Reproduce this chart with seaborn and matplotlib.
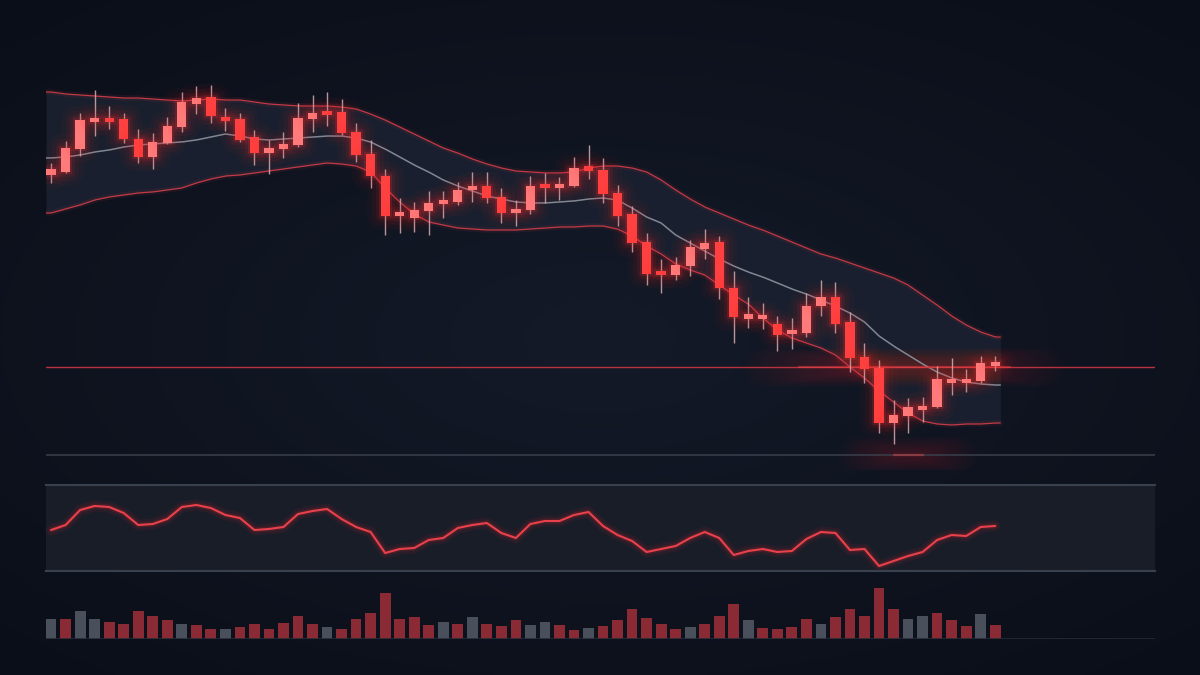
import numpy as np
import pandas as pd
import matplotlib
matplotlib.use("Agg")
import matplotlib.pyplot as plt
import matplotlib.patheffects as pe
import seaborn as sns

# ---------------- data ----------------
opens = [132.5, 132.8, 135.1, 137.8, 138.2, 138.1, 136.1, 134.3, 135.7, 137.3,
         139.6, 140.3, 138.3, 138.1, 136.3, 134.7, 135.1, 135.5, 138.1, 138.9,
         138.8, 136.8, 134.6, 132.4, 128.4, 128.2, 128.9, 129.6, 129.8, 131.0,
         131.4, 130.3, 128.7, 129.0, 131.5, 131.2, 131.4, 133.4, 133.0, 130.7,
         128.6, 125.8, 122.8, 122.5, 123.4, 125.1, 125.8, 121.2, 118.1, 118.1,
         117.6, 116.6, 116.7, 119.4, 120.3, 117.8, 114.3, 113.2, 107.7, 108.4,
         109.0, 109.3, 111.7, 111.7, 111.9, 113.4]
closes = [133.1, 135.2, 138.0, 138.1, 137.8, 136.1, 134.3, 135.8, 137.4, 139.8,
          140.2, 138.4, 137.9, 136.0, 134.7, 135.2, 135.6, 138.2, 138.7, 138.5,
          136.7, 134.5, 132.4, 128.4, 128.7, 129.0, 129.7, 130.0, 131.0, 131.4,
          130.2, 128.7, 129.1, 131.4, 131.2, 131.5, 133.2, 132.9, 130.6, 128.4,
          125.7, 122.6, 122.5, 123.5, 125.3, 125.7, 121.2, 118.3, 118.6, 118.5,
          116.5, 116.9, 119.4, 120.3, 117.6, 114.2, 113.1, 107.7, 108.5, 109.3,
          109.4, 112.1, 112.1, 112.1, 113.7, 113.8]
highs = [133.7, 135.9, 138.7, 141.0, 139.4, 138.7, 137.1, 136.7, 138.3, 140.8,
         141.4, 141.5, 139.2, 138.7, 137.0, 136.0, 136.8, 139.7, 140.5, 140.8,
         140.1, 137.7, 136.0, 133.1, 130.2, 129.8, 130.9, 130.9, 131.8, 132.8,
         132.8, 131.2, 130.0, 132.4, 132.7, 132.3, 134.3, 135.5, 134.2, 131.5,
         129.4, 126.7, 124.1, 124.3, 126.0, 127.1, 126.4, 122.9, 120.3, 119.7,
         118.4, 118.2, 120.7, 122.0, 121.8, 118.8, 115.7, 114.0, 110.0, 110.2,
         110.3, 113.4, 114.2, 113.1, 114.4, 114.4]
lows = [131.7, 132.7, 134.4, 136.4, 137.1, 135.7, 133.7, 133.1, 135.6, 136.8,
        138.6, 137.7, 136.9, 135.8, 133.5, 132.6, 134.2, 135.3, 136.8, 137.4,
        136.5, 133.8, 131.2, 126.5, 126.7, 126.8, 126.5, 128.2, 129.5, 129.8,
        129.7, 127.7, 127.4, 128.6, 129.7, 130.0, 131.3, 132.1, 129.7, 127.4,
        124.8, 121.5, 120.7, 122.0, 122.4, 124.1, 120.1, 115.7, 117.2, 117.1,
        114.9, 115.1, 116.3, 118.4, 116.7, 112.8, 111.7, 106.7, 105.6, 106.7,
        107.8, 109.2, 110.5, 110.8, 111.7, 112.9]

band_upper = [140.8, 140.6, 140.5, 140.4, 140.3, 140.2, 140.2, 140.1, 140.0, 139.9,
              140.0, 140.1, 140.0, 140.0, 139.8, 139.6, 139.5, 139.4, 139.4, 139.4,
              139.3, 139.1, 138.6, 138.0, 137.3, 136.6, 135.9, 135.2, 134.7, 134.1,
              133.6, 133.2, 132.9, 132.8, 132.7, 132.7, 132.8, 133.2, 133.4, 133.4,
              133.2, 132.8, 132.0, 131.0, 130.1, 129.3, 128.7, 128.1, 127.5, 127.0,
              126.4, 125.8, 125.2, 124.6, 124.2, 123.7, 123.2, 122.7, 122.2, 121.5,
              120.5, 119.5, 118.4, 117.5, 116.8, 116.3]
band_mid = [134.2, 134.3, 134.5, 134.8, 135.0, 135.3, 135.5, 135.6, 135.7, 135.8,
            136.0, 136.3, 136.6, 136.4, 136.1, 136.0, 136.1, 136.2, 136.3, 136.4,
            136.4, 136.2, 135.8, 135.1, 134.3, 133.5, 132.8, 132.0, 131.4, 130.9,
            130.4, 130.1, 129.8, 129.7, 129.7, 129.8, 129.9, 130.1, 130.2, 130.0,
            129.2, 128.3, 127.7, 126.5, 125.7, 124.9, 124.1, 123.4, 122.8, 122.3,
            121.7, 121.1, 120.6, 120.0, 119.4, 118.7, 117.8, 116.4, 115.4, 114.5,
            113.6, 112.8, 112.2, 111.8, 111.6, 111.5]
band_lower = [128.7, 129.1, 129.5, 130.0, 130.3, 130.5, 130.7, 130.8, 131.0, 131.2,
              131.7, 132.1, 132.4, 132.5, 132.7, 132.9, 133.1, 133.3, 133.5, 133.7,
              133.6, 133.4, 132.8, 131.2, 129.8, 128.6, 127.8, 127.5, 127.2, 127.1,
              127.0, 127.0, 127.0, 127.1, 127.2, 127.3, 127.3, 127.4, 127.4, 127.1,
              126.4, 125.4, 124.6, 123.6, 123.0, 122.5, 121.5, 120.5, 119.6, 118.2,
              117.0, 116.2, 115.7, 115.2, 114.5, 113.3, 112.2, 110.9, 109.8, 108.7,
              107.9, 107.6, 107.5, 107.6, 107.6, 107.7]

oscillator = [41, 46, 61, 65, 64, 58, 46, 47, 52, 64,
              66, 63, 56, 53, 41, 42, 44, 57, 60, 62,
              52, 44, 39, 18, 22, 23, 31, 33, 43, 46,
              48, 38, 33, 47, 50, 50, 56, 59, 45, 36,
              30, 19, 22, 25, 33, 39, 33, 16, 20, 22,
              19, 20, 32, 39, 38, 21, 22, 5, 10, 15,
              19, 31, 36, 35, 44, 45]

volume = [61, 61, 85, 61, 50, 46, 84, 70, 58, 46,
          42, 29, 30, 37, 45, 31, 48, 68, 46, 35,
          31, 61, 79, 139, 61, 66, 42, 51, 46, 67,
          45, 40, 56, 43, 51, 43, 28, 33, 38, 57,
          90, 63, 46, 30, 35, 44, 68, 105, 57, 33,
          31, 35, 59, 44, 67, 90, 68, 153, 89, 61,
          70, 78, 56, 40, 74, 43]
volume_side = list("grggrrrrrg" "rrgrrrrrrg" "rrrrrrrgrg" "rrrggrrgrr"
                   "rrrrgrrrgr" "rrrgrrrrrg" "grrrgr")

support_level = 113.3
floor_level = 104.5

# ---------------- style ----------------
BG = "#0f1420"
UP = "#ff7a7a"
DOWN = "#ff4040"
WICK = "#d6aeb3"
BAND_EDGE = "#c23a46"
MID = "#8c939e"
LINE_RED = "#b8323f"

sns.set_theme(style="dark", rc={"figure.facecolor": BG, "axes.facecolor": BG,
                                "savefig.facecolor": BG})
plt.rcParams["font.family"] = ["DejaVu Sans"]

fig = plt.figure(figsize=(12, 6.75), dpi=100)

# background vignette
bgax = fig.add_axes([0, 0, 1, 1], zorder=-10)
yy, xx = np.mgrid[-1:1:300j, -1:1:500j]
r = np.sqrt((xx * 0.9) ** 2 + (yy * 1.0) ** 2)
c_in = np.array([0x14, 0x1a, 0x28]) / 255
c_out = np.array([0x0a, 0x0e, 0x18]) / 255
t = np.clip(r / 1.35, 0, 1)[..., None]
bgax.imshow(c_in * (1 - t) + c_out * t, aspect="auto", extent=[0, 1, 0, 1])
bgax.set_axis_off()

L, W = 46 / 1200, (1155 - 46) / 1200
XMIN, XMAX = -0.35, 76.0
n = len(opens)
idx = np.arange(n)

# ---------------- main price panel ----------------
ax = fig.add_axes([L, 1 - 470 / 675, W, 400 / 675])
ax.set_facecolor("none")
ax.set_xlim(XMIN, XMAX)
ax.set_ylim(103.0, 143.0)

xf = np.linspace(XMIN, n - 1 + 0.35, 600)
up_f = np.interp(xf, idx, band_upper)
mid_f = np.interp(xf, idx, band_mid)
lo_f = np.interp(xf, idx, band_lower)
ax.fill_between(xf, lo_f, up_f, color="#1b2130", alpha=0.9, lw=0, zorder=1)

sns.lineplot(x=xf, y=up_f, ax=ax, color=BAND_EDGE, lw=0.9, zorder=2)
sns.lineplot(x=xf, y=lo_f, ax=ax, color=BAND_EDGE, lw=0.9, zorder=2)
sns.lineplot(x=xf, y=mid_f, ax=ax, color=MID, lw=1.1, zorder=2, alpha=0.9)
for ln in ax.lines[:2]:
    ln.set_path_effects([pe.Stroke(linewidth=4, foreground=BAND_EDGE, alpha=0.10),
                         pe.Normal()])

# horizontal reference lines
ax.axhline(support_level, color=LINE_RED, lw=1.0, zorder=2)
ax.axhline(floor_level, color="#3a404c", lw=1.1, zorder=2)

# soft glows around the reference lines (many faint layers, tapering)
for (a, b, lev, strength) in [(49.0, 68.5, support_level, 1.0),
                              (55.5, 62.5, floor_level, 0.9)]:
    layers = 22
    for k in range(layers):
        f = k / (layers - 1)
        shrink = f * (b - a) * 0.42
        ax.plot([a + shrink, b - shrink], [lev, lev], color="#ff2424",
                lw=26 * (1 - f) + 2, alpha=0.014 * strength,
                solid_capstyle="round", zorder=1.5)
    ax.plot([a + 2.5, b - 2.5], [lev, lev], color="#ff4a4a", lw=1.6,
            alpha=0.40, zorder=2, solid_capstyle="round")

# candles
o = np.array(opens); c = np.array(closes)
h = np.array(highs); lw_ = np.array(lows)
is_up = c >= o
body_bot = np.minimum(o, c)
body_h = np.maximum(np.abs(c - o), 0.4)
cols = np.where(is_up, UP, DOWN)

ax.vlines(idx, lw_, h, color=WICK, lw=1.0, zorder=3, alpha=0.85)
bars = ax.bar(idx, body_h, bottom=body_bot, width=0.64, color=cols, lw=0, zorder=4)
for p in bars:
    p.set_path_effects([
        pe.Stroke(linewidth=20, foreground="#ff1f1f", alpha=0.03, joinstyle="round"),
        pe.Stroke(linewidth=13, foreground="#ff1f1f", alpha=0.05, joinstyle="round"),
        pe.Stroke(linewidth=7, foreground="#ff2a2a", alpha=0.09, joinstyle="round"),
        pe.Stroke(linewidth=3, foreground="#ff3a3a", alpha=0.16, joinstyle="round"),
        pe.Normal()])

ax.set_axis_off()

# ---------------- oscillator panel ----------------
axo = fig.add_axes([L, 1 - 571 / 675, W, 86 / 675])
axo.set_facecolor("#181d28")
axo.set_xlim(XMIN, XMAX)
axo.set_ylim(0, 86)
sns.lineplot(x=idx, y=oscillator, ax=axo, color="#e8414c", lw=1.5)
axo.lines[0].set_path_effects([
    pe.Stroke(linewidth=8, foreground="#ff2a2a", alpha=0.07),
    pe.Stroke(linewidth=4, foreground="#ff2a2a", alpha=0.14),
    pe.Normal()])
axo.lines[0].set_solid_joinstyle("round")
for s in ["left", "right"]:
    axo.spines[s].set_visible(False)
for s in ["top", "bottom"]:
    axo.spines[s].set_visible(True)
    axo.spines[s].set_color("#3a414e")
    axo.spines[s].set_linewidth(1.5)
axo.set_xticks([]); axo.set_yticks([])
axo.set_xlabel(""); axo.set_ylabel("")

# ---------------- volume panel ----------------
axv = fig.add_axes([L, 1 - 639 / 675, W, 59 / 675])
axv.set_facecolor("none")
vdf = pd.DataFrame({"i": idx, "vol": volume, "side": volume_side})
sns.barplot(data=vdf, x="i", y="vol", hue="side", native_scale=True, dodge=False,
            palette={"r": "#8a2a35", "g": "#4a505b"}, width=0.74, errorbar=None,
            legend=False, linewidth=0, saturation=1, ax=axv)
axv.axhline(0, color="#252b37", lw=1.2)
axv.set_xlim(XMIN, XMAX)
axv.set_ylim(0, 177)
axv.set_axis_off()

fig.savefig("out.png", dpi=100, facecolor=BG)
